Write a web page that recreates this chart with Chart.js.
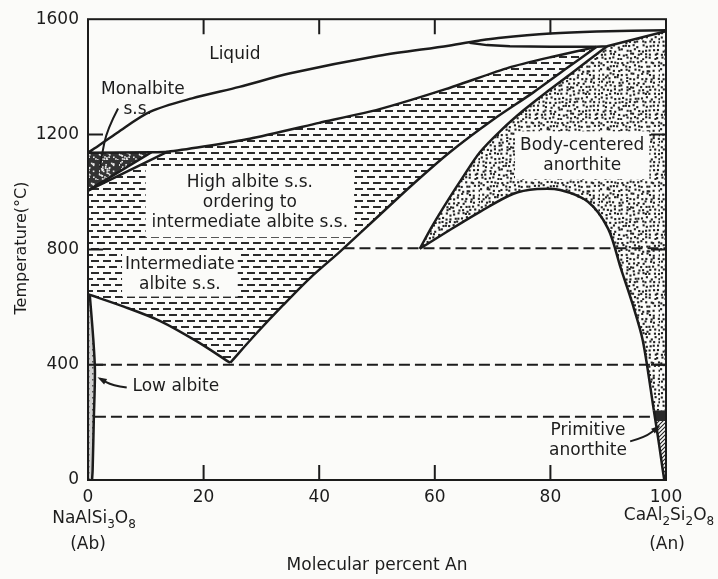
<!DOCTYPE html>
<html>
<head>
<meta charset="utf-8">
<script src="https://cdn.jsdelivr.net/npm/chart.js@4.4.1/dist/chart.umd.min.js"></script>
<style>
  body { margin: 0; background: #fbfbf9; }
  canvas { display: block; }
</style>
</head>
<body>
<canvas id="myChart" width="718" height="579"></canvas>
<script>
// axis ticks
const xTicks = [20, 40, 60, 80]
const yTicks = [400, 800, 1200]

// liquidus (upper curve of the melting loop)
const liqX = [0, 2, 5, 10.7, 18, 26.2, 35, 50.3, 62.4, 68, 71, 80, 88, 100]
const liqT = [1136, 1163, 1205, 1278, 1325, 1365, 1412, 1473, 1508, 1527, 1535, 1550, 1557, 1562]

// solidus (lower curve of the loop, top of high albite field)
const solX = [0, 11, 13.8, 20, 28, 40, 50.3, 62, 72.8, 80, 88]
const solT = [1136, 1138, 1140, 1158, 1185, 1240, 1287, 1358, 1432, 1468, 1504]

// thin line just under the liquidus near An
const thinX = [66, 69, 73, 80, 88]
const thinT = [1518, 1510, 1506, 1504, 1504]

// monalbite field
const monX = [0, 0, 11]
const monT = [1005, 1136, 1138]
const diagX = [0, 13.8]
const diagT = [1005, 1140]

// V boundaries of the high / intermediate albite field
const vlX = [0, 6.2, 12.5, 18.7, 24.6]
const vlT = [645, 602, 552, 483, 407]
const vrX = [24.6, 29, 33.7, 38.5, 43.6, 50.5, 56.5, 62.6, 70, 77, 82.5, 88]
const vrT = [407, 506, 606, 703, 793, 921, 1032, 1138, 1250, 1345, 1425, 1504]

// body-centered anorthite: outer curve, top edge and inner arch
const boX = [57.4, 59.5, 62.1, 64.8, 67.8, 71.5, 75.3, 79.2, 83.5, 89.8]
const boT = [803, 880, 966, 1050, 1138, 1215, 1283, 1345, 1410, 1506]
const topX = [88, 89.8, 100]
const topT = [1504, 1506, 1558]
const arX = [57.4, 62.1, 67.8, 73.5, 77.7, 81.7, 86.5, 90.0, 92.2, 94.2, 96.0, 97.9]
const arT = [803, 862, 931, 993, 1010, 1007, 966, 872, 734, 612, 483, 241]

// primitive anorthite and low albite slivers
const prX = [97.9, 98.3, 98.9, 99.4, 99.7]
const prT = [241, 190, 110, 40, 0]
const laX = [0.3, 0.9, 1.2, 1.0, 0.8, 0.7]
const laT = [645, 493, 379, 207, 34, 0]

// dashed transition lines
const dashLo = { x: [1.2, 97.9], t: 220 }
const dashMid = { x: [1.2, 100], t: 400 }
const dashHi = { x: [44.2, 100], t: 805 }

// leader lines
const monArrX = [5.2, 3.3, 2.4, 2.1]
const monArrT = [1290, 1217, 1128, 1086]
const lowArrX = [6.7, 4.2, 2.1]
const lowArrT = [321, 328, 352]
const prArrX = [93.8, 96.4, 98.6]
const prArrT = [134, 148, 183]

const FONT = '"DejaVu Sans", sans-serif'
const INK = '#1c1c1c'

function pts(xs, ts) {
  return xs.map((v, i) => ({ x: v, y: Array.isArray(ts) ? ts[i] : ts }))
}
function rev(a) { return a.slice().reverse() }

// textures
function tile(w, h, draw) {
  const c = document.createElement('canvas')
  c.width = w; c.height = h
  draw(c.getContext('2d'), w, h)
  return c
}
let seed = 12345
function hash() { seed = (seed * 16807) % 2147483647; return seed / 2147483647 }

const dashTile = tile(24, 12, g => {
  g.fillStyle = '#2a2a2a'
  g.fillRect(1, 2, 8, 2); g.fillRect(13, 2, 8, 2)
  g.fillRect(7, 8, 8, 2); g.fillRect(19, 8, 5, 2); g.fillRect(0, 8, 3, 2)
})
const dotTile = tile(60, 60, g => {
  g.fillStyle = '#222'
  for (let i = 0; i < 15; i++) for (let j = 0; j < 15; j++) {
    g.fillRect(i * 4 + hash() * 2.8, j * 4 + hash() * 2.8, 2.1, 2.1)
  }
})
const monTile = tile(20, 20, g => {
  g.fillStyle = '#333'; g.fillRect(0, 0, 20, 20)
  g.fillStyle = '#eee'
  for (let i = 0; i < 45; i++) g.fillRect(hash() * 20, hash() * 20, 1.6, 1.6)
})
const primTile = tile(4, 4, g => {
  g.strokeStyle = '#222'; g.lineWidth = 1.1
  g.beginPath(); g.moveTo(0, 4); g.lineTo(4, 0); g.moveTo(-1, 1); g.lineTo(1, -1); g.moveTo(3, 5); g.lineTo(5, 3); g.stroke()
})
const lowTile = tile(6, 6, g => {
  g.fillStyle = '#cfcfcf'; g.fillRect(0, 0, 6, 6)
  g.fillStyle = '#555'; g.fillRect(2, 1, 1.5, 1.5); g.fillRect(4, 4, 1.5, 1.5)
})

const regionsPlugin = {
  id: 'regions',
  beforeDatasetsDraw(chart) {
    const ctx = chart.ctx, a = chart.chartArea
    const X = v => chart.scales.x.getPixelForValue(v)
    const Y = v => chart.scales.y.getPixelForValue(v)
    function poly(list, fill) {
      ctx.beginPath()
      list.forEach((p, i) => i ? ctx.lineTo(X(p.x), Y(p.y)) : ctx.moveTo(X(p.x), Y(p.y)))
      ctx.closePath()
      ctx.fillStyle = ctx.createPattern(fill, 'repeat')
      ctx.fill()
    }
    ctx.save()
    ctx.beginPath(); ctx.rect(a.left, a.top, a.right - a.left, a.bottom - a.top); ctx.clip()

    const hatch = [
      ...pts([0, 0], [645, 1005]),
      ...pts(solX, solT).filter(p => p.x >= 13.8),
      ...rev(pts(vrX, vrT)).slice(1),
      ...rev(pts(vlX, vlT)).slice(1)
    ]
    poly(hatch, dashTile)
    poly(pts(monX, monT), monTile)
    const body = [
      ...pts(boX, boT),
      ...pts([100, 100], [1558, 241]),
      ...rev(pts(arX, arT))
    ]
    poly(body, dotTile)
    poly([...pts(prX, prT), ...pts([100, 100], [0, 241])], primTile)
    ctx.fillStyle = '#2a2a2a'
    ctx.beginPath()
    ctx.moveTo(X(97.9), Y(241)); ctx.lineTo(X(100), Y(241)); ctx.lineTo(X(100), Y(205)); ctx.lineTo(X(98.2), Y(205))
    ctx.closePath(); ctx.fill()
    poly([...pts(laX, laT), ...pts([0, 0], [0, 645])], lowTile)

    // cleared boxes behind labels sitting on textures
    ctx.font = '17px ' + FONT
    labels.filter(l => l.box).forEach(l => {
      const w = Math.max(...l.lines.map(s => ctx.measureText(s).width))
      const cx = X(l.x), cy = Y(l.y)
      const h = l.lines.length * 20
      ctx.fillStyle = '#fbfbf9'
      ctx.fillRect(cx - w / 2 - l.box, cy - 10 - l.box + 1, w + 2 * l.box, h + 2 * l.box - 2)
    })
    ctx.restore()
  },
  afterDatasetsDraw(chart) {
    const ctx = chart.ctx, a = chart.chartArea
    const X = v => chart.scales.x.getPixelForValue(v)
    const Y = v => chart.scales.y.getPixelForValue(v)
    ctx.save()
    ctx.strokeStyle = INK
    ctx.lineWidth = 2
    ctx.strokeRect(a.left, a.top, a.right - a.left, a.bottom - a.top)
    ctx.beginPath()
    xTicks.forEach(v => {
      ctx.moveTo(X(v), a.bottom); ctx.lineTo(X(v), a.bottom - 15)
      ctx.moveTo(X(v), a.top); ctx.lineTo(X(v), a.top + 15)
    })
    yTicks.forEach(v => {
      ctx.moveTo(a.left, Y(v)); ctx.lineTo(a.left + 15, Y(v))
      ctx.moveTo(a.right, Y(v)); ctx.lineTo(a.right - 15, Y(v))
    })
    ctx.stroke()

    // leader lines
    function leader(xs, ts, head) {
      ctx.lineWidth = 2
      ctx.beginPath()
      const p = xs.map((v, i) => [X(v), Y(ts[i])])
      ctx.moveTo(p[0][0], p[0][1])
      for (let i = 1; i < p.length - 1; i++) {
        const mx = (p[i][0] + p[i + 1][0]) / 2, my = (p[i][1] + p[i + 1][1]) / 2
        ctx.quadraticCurveTo(p[i][0], p[i][1], mx, my)
      }
      const e = p[p.length - 1]
      ctx.lineTo(e[0], e[1])
      ctx.stroke()
      if (head) {
        const b = p[p.length - 2]
        const ang = Math.atan2(e[1] - b[1], e[0] - b[0])
        ctx.beginPath()
        ctx.moveTo(e[0] + 3 * Math.cos(ang), e[1] + 3 * Math.sin(ang))
        ctx.lineTo(e[0] - 7 * Math.cos(ang - 0.45), e[1] - 7 * Math.sin(ang - 0.45))
        ctx.lineTo(e[0] - 7 * Math.cos(ang + 0.45), e[1] - 7 * Math.sin(ang + 0.45))
        ctx.closePath()
        ctx.fillStyle = INK
        ctx.fill()
      }
    }
    leader(monArrX, monArrT, false)
    leader(lowArrX, lowArrT, true)
    leader(prArrX, prArrT, true)

    // region labels
    ctx.fillStyle = INK
    ctx.font = '17px ' + FONT
    ctx.textAlign = 'center'
    ctx.textBaseline = 'middle'
    labels.forEach(l => {
      l.lines.forEach((s, i) => ctx.fillText(s, X(l.x), Y(l.y) + i * 20))
    })

    // axis titles and end members
    ctx.fillText('Molecular percent An', (a.left + a.right) / 2, a.bottom + 86)
    ctx.fillText('(Ab)', X(0), a.bottom + 65)
    ctx.fillText('(An)', X(100) + 1, a.bottom + 65)
    rich(ctx, [['NaAlSi'], ['3', 1], ['O'], ['8', 1]], X(0) + 6, a.bottom + 39)
    rich(ctx, [['CaAl'], ['2', 1], ['Si'], ['2', 1], ['O'], ['8', 1]], X(100) + 3, a.bottom + 36)
    ctx.save()
    ctx.translate(22, 248)
    ctx.rotate(-Math.PI / 2)
    ctx.font = '16px ' + FONT
    ctx.textAlign = 'center'
    ctx.fillText('Temperature(°C)', 0, 0)
    ctx.restore()
    ctx.restore()
  }
}

function rich(ctx, parts, cx, cy) {
  const main = '17px ' + FONT, sub = '12px ' + FONT
  let w = 0
  parts.forEach(p => { ctx.font = p[1] ? sub : main; w += ctx.measureText(p[0]).width })
  let x = cx - w / 2
  ctx.textAlign = 'left'
  parts.forEach(p => {
    ctx.font = p[1] ? sub : main
    ctx.fillText(p[0], x, cy + (p[1] ? 6 : 0))
    x += ctx.measureText(p[0]).width
  })
  ctx.textAlign = 'center'
  ctx.font = main
}

const labels = [
  { lines: ['Liquid'], x: 25.4, y: 1476 },
  { lines: ['Monalbite'], x: 9.5, y: 1355 },
  { lines: ['s.s.'], x: 8.6, y: 1286 },
  { lines: ['High albite s.s.', 'ordering to', 'intermediate albite s.s.'], x: 28, y: 1034, box: 6 },
  { lines: ['Intermediate', 'albite s.s.'], x: 15.9, y: 748, box: 3 },
  { lines: ['Body-centered', 'anorthite'], x: 85.5, y: 1162, box: 5 },
  { lines: ['Low albite'], x: 15.2, y: 324 },
  { lines: ['Primitive', 'anorthite'], x: 86.5, y: 172 }
]

const solid = (xs, ts, tension = 0.3) => ({ data: pts(xs, ts), borderColor: INK, borderWidth: 2.5, tension: tension })
const dashed = d => ({ data: pts(d.x, d.t), borderColor: INK, borderWidth: 2, borderDash: [11, 5] })

const ctx = document.getElementById('myChart')
new Chart(ctx, {
  type: 'scatter',
  data: {
    datasets: [
      solid(liqX, liqT),
      solid(solX, solT, 0.2),
      solid(thinX, thinT, 0),
      solid([0, 11], [1005, 1138]),
      solid(diagX, diagT),
      solid(vlX, vlT),
      solid(vrX, vrT),
      solid(boX, boT),
      solid(topX, topT, 0),
      solid(arX, arT),
      solid(prX, prT),
      solid(laX, laT),
      dashed(dashLo),
      dashed(dashMid),
      dashed(dashHi)
    ]
  },
  options: {
    responsive: false,
    animation: false,
    events: [],
    showLine: true,
    elements: { point: { radius: 0 }, line: { tension: 0, fill: false } },
    layout: { padding: { top: 15, right: 52, left: 0, bottom: 0 } },
    plugins: { legend: { display: false }, tooltip: { enabled: false } },
    scales: {
      x: {
        type: 'linear', min: 0, max: 100,
        ticks: { stepSize: 20, padding: 7, color: INK, font: { family: FONT, size: 17 }, callback: v => String(v) },
        grid: { display: false, drawTicks: false },
        border: { display: false },
        afterFit(s) { s.height = 99 }
      },
      y: {
        type: 'linear', min: 0, max: 1600,
        ticks: { stepSize: 400, padding: 9, color: INK, font: { family: FONT, size: 17 }, callback: v => String(v) },
        grid: { display: false, drawTicks: false },
        border: { display: false },
        afterFit(s) { s.width = 88 }
      }
    }
  },
  plugins: [regionsPlugin]
})
</script>
</body>
</html>
